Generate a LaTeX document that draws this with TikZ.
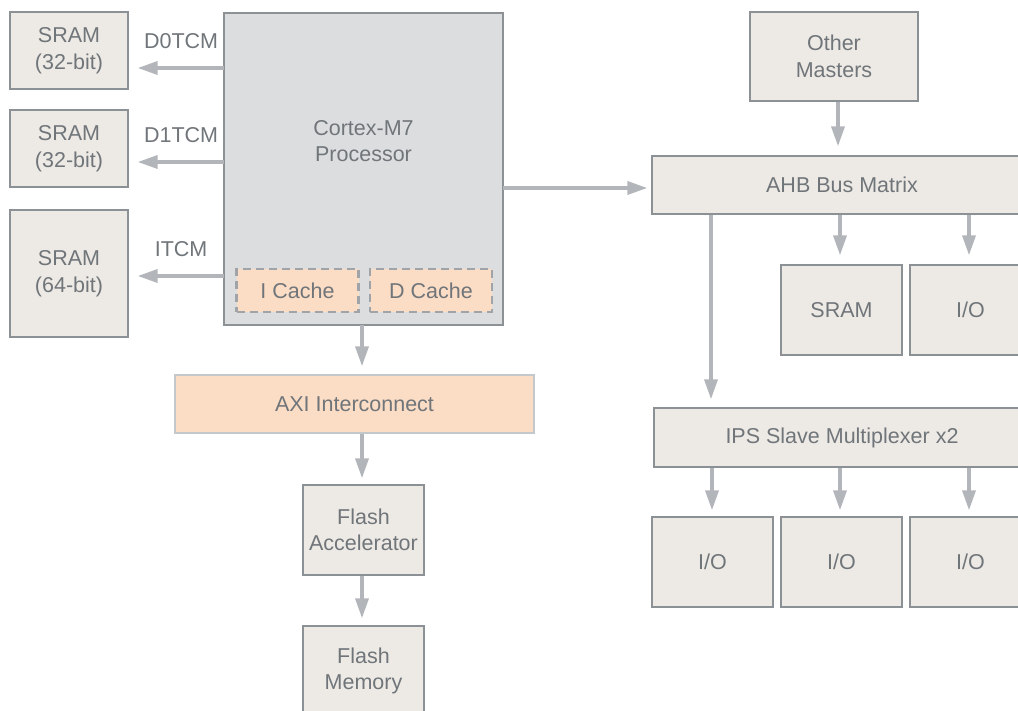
\documentclass[tikz,border=0pt]{standalone}
\usepackage{fontspec}
\setmainfont{Liberation Sans}
\usepackage{xcolor}
\usetikzlibrary{arrows.meta}

\definecolor{boxfill}{RGB}{237,234,229}
\definecolor{boxline}{RGB}{140,145,150}
\definecolor{cpufill}{RGB}{220,221,223}
\definecolor{peach}{RGB}{251,220,197}
\definecolor{arrowgray}{RGB}{178,182,186}
\definecolor{dashgray}{RGB}{160,164,168}
\definecolor{textgray}{RGB}{112,117,122}

\begin{document}
\begin{tikzpicture}[x=1pt,y=-1pt,
	font=\fontsize{21.5}{26.5}\selectfont, text=textgray,
	blk/.style={draw=boxline,line width=1.3pt,fill=boxfill,inner sep=0pt,align=center},
	cachebox/.style={draw=dashgray,line width=2.5pt,dash pattern=on 8pt off 5pt,fill=peach,inner sep=0pt,minimum width=122pt,minimum height=43pt},
	bus/.style={line width=3.5pt,draw=arrowgray,-{Triangle[length=20pt,width=13pt]},shorten >=8pt},
	busname/.style={inner sep=0pt,above=18pt}]
	\useasboundingbox (0,0) rectangle (1018,711);
	\clip (0,0) rectangle (1018,711);

	% Left column: TCM memories
	\node (sramA) [blk,minimum width=118pt,minimum height=77pt] at (69,50.5) {SRAM\\(32-bit)};
	\node (sramB) [blk,minimum width=118pt,minimum height=77pt] at (69,148.5) {SRAM\\(32-bit)};
	\node (sramC) [blk,minimum width=118pt,minimum height=127pt] at (69,273.5) {SRAM\\(64-bit)};

	% Processor and caches
	\node (cpu) [blk,fill=cpufill,minimum width=279pt,minimum height=312pt] at (363.5,169) {};
	\node (cpulabel) [align=center,inner sep=0pt] at (363.5,141) {Cortex-M7\\Processor};
	\node (icache) [cachebox] at (297.5,290.5) {I Cache};
	\node (dcache) [cachebox] at (431,290.5) {D Cache};

	\coordinate (dzero) at (224,68);
	\coordinate (done) at (224,162);
	\coordinate (itcm) at (224,276);
	\draw[bus,shorten >=9pt] (dzero) -- (sramA.east |- dzero) node[busname,pos=0.45] {D0TCM};
	\draw[bus,shorten >=9pt] (done) -- (sramB.east |- done) node[busname,pos=0.45] {D1TCM};
	\draw[bus,shorten >=9pt] (itcm) -- (sramC.east |- itcm) node[busname,pos=0.45] {ITCM};

	% AXI path
	\node (axi) [blk,fill=peach,draw=boxline!50,minimum width=359pt,minimum height=58pt] at (354.5,404) {AXI Interconnect};
	\node (flashacc) [blk,minimum width=121pt,minimum height=90pt] at (363.5,530) {Flash\\Accelerator};
	\node (flashmem) [blk,minimum width=121pt,minimum height=90pt] at (363.5,671) {Flash\\Memory};
	\coordinate (cpubot) at (362,325);
	\draw[bus] (cpubot) -- (axi.north -| cpubot);
	\draw[bus,shorten >=6pt] (axi.south -| cpubot) -- (flashacc.north -| cpubot);
	\draw[bus,shorten >=7pt] (flashacc.south -| cpubot) -- (flashmem.north -| cpubot);

	% AHB side
	\node (others) [blk,minimum width=168pt,minimum height=89pt] at (834,56.5) {Other\\Masters};
	\node (ahb) [blk,minimum width=380pt,minimum height=58pt] at (842,185) {AHB Bus Matrix};
	\node (sramD) [blk,minimum width=121pt,minimum height=90pt] at (841.5,310) {SRAM};
	\node (ioA) [blk,minimum width=121pt,minimum height=90pt] at (970.5,310) {I/O};
	\coordinate (cpuright) at (503,188);
	\draw[bus,shorten >=4pt] (cpuright) -- (ahb.west |- cpuright);
	\draw[bus,shorten >=9pt] (others.south -| 838,0) -- (ahb.north -| 838,0);
	\draw[bus,shorten >=9pt] (ahb.south -| 840,0) -- (sramD.north -| 840,0);
	\draw[bus,shorten >=9pt] (ahb.south -| 969,0) -- (ioA.north -| 969,0);

	% IPS multiplexer
	\node (ips) [blk,minimum width=376pt,minimum height=59pt] at (842,437.5) {IPS Slave Multiplexer x2};
	\node (ioB) [blk,minimum width=121pt,minimum height=90pt] at (712.5,562) {I/O};
	\node (ioC) [blk,minimum width=121pt,minimum height=90pt] at (841.5,562) {I/O};
	\node (ioD) [blk,minimum width=121pt,minimum height=90pt] at (970.5,562) {I/O};
	\draw[bus] (ahb.south -| 711,0) -- (ips.north -| 711,0);
	\draw[bus,shorten >=6pt] (ips.south -| 712,0) -- (ioB.north -| 712,0);
	\draw[bus,shorten >=6pt] (ips.south -| 840,0) -- (ioC.north -| 840,0);
	\draw[bus,shorten >=6pt] (ips.south -| 969,0) -- (ioD.north -| 969,0);
\end{tikzpicture}
\end{document}
